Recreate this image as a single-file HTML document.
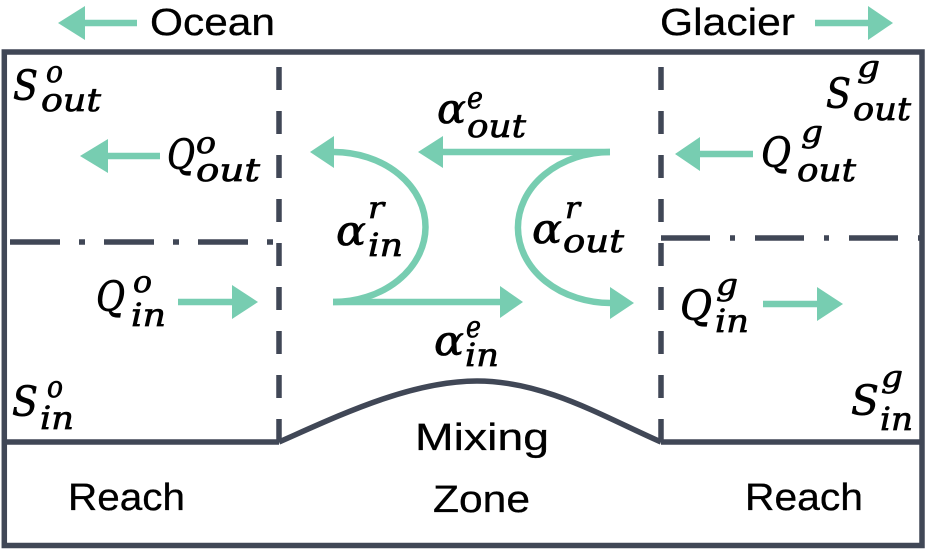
<!DOCTYPE html>
<html><head><meta charset="utf-8"><style>
html,body{margin:0;padding:0;background:#fff;}
svg{display:block;}
.m{font-family:"DejaVu Serif","Liberation Serif",serif;font-style:italic;fill:#000;stroke:#000;stroke-width:0.7;}
.t{font-family:"Liberation Sans","DejaVu Sans",sans-serif;fill:#000;stroke:#000;stroke-width:0.3;}
</style></head><body>
<svg width="926" height="550" viewBox="0 0 926 550" xmlns="http://www.w3.org/2000/svg">
<!-- outer box -->
<rect x="4.3" y="52" width="917.7" height="493.5" fill="none" stroke="#404756" stroke-width="5.5"/>
<!-- ground lines -->
<g stroke="#404756" stroke-width="5.5" fill="none">
<line x1="4" y1="442" x2="279" y2="442"/>
<line x1="661" y1="442" x2="922" y2="442"/>
<path d="M279,442 C338,416 410,381 477,381 C544,381 602,416 661,442"/>
<!-- vertical dashed -->
<line x1="279" y1="67" x2="279" y2="442" stroke-dasharray="23 21"/>
<line x1="661" y1="67" x2="661" y2="442" stroke-dasharray="23 21"/>
<!-- dash-dot -->
<line x1="10" y1="242" x2="273" y2="242" stroke-dasharray="50 19 6 19"/>
<line x1="661" y1="238" x2="920" y2="238" stroke-dasharray="49 20 5 20"/>
</g>
<!-- teal arrows -->
<g stroke="#77cdb1" stroke-width="6.5" fill="none">
<line x1="84" y1="23" x2="137" y2="23"/>
<line x1="815" y1="23" x2="869" y2="23"/>
<line x1="107" y1="156" x2="160" y2="156"/>
<line x1="699" y1="154" x2="753" y2="154"/>
<line x1="178" y1="302" x2="233" y2="302"/>
<line x1="763" y1="304" x2="818" y2="304"/>
<line x1="610" y1="152" x2="442" y2="152"/>
<line x1="333" y1="302" x2="501" y2="302"/>
<path d="M333,302 A92,75 0 0 0 334,152"/>
<path d="M610,152 A92,75 0 0 0 611,303"/>
</g>
<g fill="#77cdb1">
<polygon points="58,23 85,6 85,40"/>
<polygon points="893,23 868,6 868,40"/>
<polygon points="80,156 108,139 108,173"/>
<polygon points="675,154 700,137 700,171"/>
<polygon points="258,302 232,285 232,319"/>
<polygon points="843,304 817,287 817,321"/>
<polygon points="418,152 443,136 443,168"/>
<polygon points="523,302 500,286 500,318"/>
<polygon points="310,152 334,136 334,168"/>
<polygon points="634,303 610,287 610,319"/>
</g>
<!-- plain labels -->
<text class="t" x="150" y="35" font-size="38" textLength="125" lengthAdjust="spacingAndGlyphs">Ocean</text>
<text class="t" x="660" y="35" font-size="38" textLength="135" lengthAdjust="spacingAndGlyphs">Glacier</text>
<text class="t" x="68" y="510" font-size="38" textLength="117" lengthAdjust="spacingAndGlyphs">Reach</text>
<text class="t" x="745" y="510" font-size="38" textLength="118" lengthAdjust="spacingAndGlyphs">Reach</text>
<text class="t" x="415" y="450" font-size="38" textLength="134" lengthAdjust="spacingAndGlyphs">Mixing</text>
<text class="t" x="433" y="512" font-size="38" textLength="97" lengthAdjust="spacingAndGlyphs">Zone</text>
<!-- math labels -->
<g class="m">
<!-- S o out -->
<text x="13" y="100" font-size="41" textLength="25" lengthAdjust="spacingAndGlyphs">S</text>
<text x="46" y="82" font-size="30" textLength="17" lengthAdjust="spacingAndGlyphs">o</text>
<text x="41" y="111" font-size="32" textLength="60" lengthAdjust="spacingAndGlyphs">out</text>
<!-- Q o out -->
<text x="167" y="169" font-size="41" textLength="28" lengthAdjust="spacingAndGlyphs">Q</text>
<text x="196" y="153" font-size="30" textLength="20" lengthAdjust="spacingAndGlyphs">o</text>
<text x="196" y="181" font-size="32" textLength="64" lengthAdjust="spacingAndGlyphs">out</text>
<!-- Q o in -->
<text x="96" y="311" font-size="41" textLength="29" lengthAdjust="spacingAndGlyphs">Q</text>
<text x="133" y="292" font-size="30" textLength="19" lengthAdjust="spacingAndGlyphs">o</text>
<text x="131" y="326" font-size="32" textLength="35" lengthAdjust="spacingAndGlyphs">in</text>
<!-- S o in -->
<text x="12" y="416" font-size="41" textLength="26" lengthAdjust="spacingAndGlyphs">S</text>
<text x="47" y="397" font-size="30" textLength="16" lengthAdjust="spacingAndGlyphs">o</text>
<text x="40" y="429" font-size="32" textLength="34" lengthAdjust="spacingAndGlyphs">in</text>
<!-- S g out -->
<text x="826" y="108" font-size="41" textLength="25" lengthAdjust="spacingAndGlyphs">S</text>
<text x="857" y="77" font-size="30" textLength="23" lengthAdjust="spacingAndGlyphs">g</text>
<text x="853" y="120" font-size="32" textLength="58" lengthAdjust="spacingAndGlyphs">out</text>
<!-- Q g out -->
<text x="761" y="167" font-size="41" textLength="30" lengthAdjust="spacingAndGlyphs">Q</text>
<text x="801" y="142" font-size="30" textLength="22" lengthAdjust="spacingAndGlyphs">g</text>
<text x="797" y="181" font-size="32" textLength="59" lengthAdjust="spacingAndGlyphs">out</text>
<!-- Q g in -->
<text x="680" y="320" font-size="41" textLength="32" lengthAdjust="spacingAndGlyphs">Q</text>
<text x="716" y="295" font-size="30" textLength="22" lengthAdjust="spacingAndGlyphs">g</text>
<text x="715" y="332" font-size="32" textLength="34" lengthAdjust="spacingAndGlyphs">in</text>
<!-- S g in -->
<text x="851" y="415" font-size="41" textLength="28" lengthAdjust="spacingAndGlyphs">S</text>
<text x="881" y="387" font-size="30" textLength="22" lengthAdjust="spacingAndGlyphs">g</text>
<text x="880" y="430" font-size="32" textLength="33" lengthAdjust="spacingAndGlyphs">in</text>
<!-- alpha e out -->
<text x="437" y="123" font-size="41" textLength="29" lengthAdjust="spacingAndGlyphs">α</text>
<text x="467" y="108" font-size="30" textLength="16" lengthAdjust="spacingAndGlyphs">e</text>
<text x="467" y="137" font-size="32" textLength="59" lengthAdjust="spacingAndGlyphs">out</text>
<!-- alpha r in -->
<text x="336" y="245" font-size="41" textLength="30" lengthAdjust="spacingAndGlyphs">α</text>
<text x="368" y="218" font-size="30" textLength="16" lengthAdjust="spacingAndGlyphs">r</text>
<text x="368" y="256" font-size="32" textLength="35" lengthAdjust="spacingAndGlyphs">in</text>
<!-- alpha r out -->
<text x="532" y="243" font-size="41" textLength="30" lengthAdjust="spacingAndGlyphs">α</text>
<text x="565" y="218" font-size="30" textLength="15" lengthAdjust="spacingAndGlyphs">r</text>
<text x="563" y="252" font-size="32" textLength="61" lengthAdjust="spacingAndGlyphs">out</text>
<!-- alpha e in -->
<text x="434" y="355" font-size="41" textLength="30" lengthAdjust="spacingAndGlyphs">α</text>
<text x="466" y="337" font-size="30" textLength="15" lengthAdjust="spacingAndGlyphs">e</text>
<text x="465" y="366" font-size="32" textLength="34" lengthAdjust="spacingAndGlyphs">in</text>
</g>
</svg>
</body></html>
